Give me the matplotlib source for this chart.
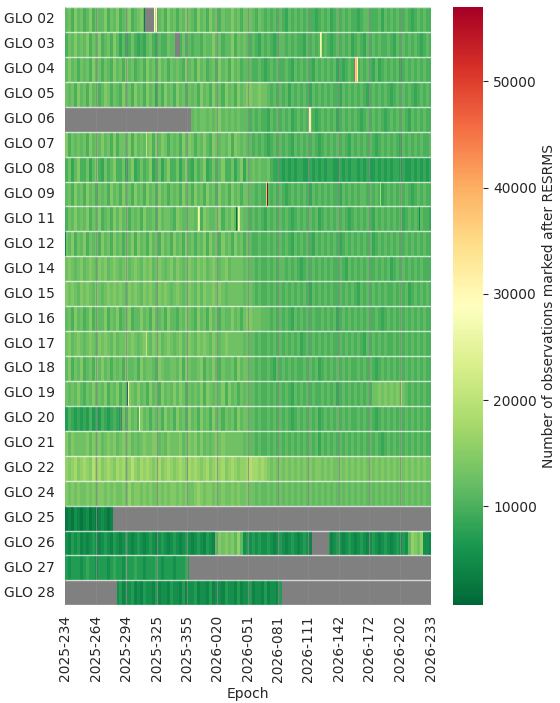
import numpy as np
import pandas as pd
import matplotlib
matplotlib.use("Agg")
import matplotlib.pyplot as plt
import seaborn as sns

sns.set_style("white")
plt.rcParams['font.family'] = ['DejaVu Sans']

satellites = ["GLO 02", "GLO 03", "GLO 04", "GLO 05", "GLO 06", "GLO 07",
              "GLO 08", "GLO 09", "GLO 11", "GLO 12", "GLO 14", "GLO 15",
              "GLO 16", "GLO 17", "GLO 18", "GLO 19", "GLO 20", "GLO 21",
              "GLO 22", "GLO 24", "GLO 25", "GLO 26", "GLO 27", "GLO 28"]

# one epoch per day, 2025-234 .. 2026-233
epochs = list(pd.date_range("2025-08-22", periods=365, freq="D").strftime("%Y-%j"))

tick_labels = ["2025-234", "2025-264", "2025-294", "2025-325", "2025-355",
               "2026-020", "2026-051", "2026-081", "2026-111", "2026-142",
               "2026-172", "2026-202", "2026-233"]

# epochs with a data gap (thin grey stripes)
gap_epochs = ["2025-264", "2025-294", "2025-325", "2025-355", "2026-020",
              "2026-051", "2026-081", "2026-111", "2026-142", "2026-172",
              "2026-202", "2026-233"]

# rough level per 3-day block, hex digit: obs = 1000 + 1500 * level
block_levels = [
    "786978 679687 796879 678967 897869 778697 868798 769786 978687 797868 887687 676767 657676 767665 676756 767676 656776 667576 767667 656767 66",  # 02
    "687978 796879 678697 575686 565786 576687 796867 677687 797867 796878 767657 676567 767676 657676 767656 767675 676576 767667 657676 767656 76",  # 03
    "797868 786978 687697 869786 786978 697868 787697 869786 786978 697867 776676 567676 676576 767657 676767 565676 767676 575676 767567 676767 66",  # 04
    "878697 869786 798687 697869 786978 586978 697868 786978 697869 786978 998898 876767 675767 676576 767676 657676 767656 767676 567676 765676 76",  # 05
    "777777 777777 777777 777777 777777 777777 777878 787887 878978 787877 767676 657676 767567 676765 676767 567676 765676 767656 767676 576767 66",  # 06
    "968787 869787 978696 887969 787896 979868 786979 868797 698787 969878 776767 656767 676576 767676 567676 767657 676767 656767 676576 767676 67",  # 07
    "685796 685796 586796 685795 686795 685796 685796 586795 686796 685795 878787 786555 454545 544545 454554 454545 545454 454545 455454 454545 45",  # 08
    "786978 697868 786978 697869 786978 697868 786978 697869 786978 697868 877676 676767 656767 676576 767676 657676 767767 676567 676767 656767 66",  # 09
    "687978 796879 678697 978687 869778 697887 698778 879698 778968 797687 767676 576767 676567 676767 567676 767656 767676 576767 676756 767676 65",  # 11
    "879687 968786 978697 868796 978697 869786 978697 868796 978697 869786 876676 676767 676576 767657 676767 656767 676767 567676 767667 676767 66",  # 12
    "898789 789879 897898 789789 879897 898789 798789 879897 898789 788887 877676 676767 767676 567676 767676 676576 767676 676767 567676 767676 66",  # 14
    "989879 898798 789898 987989 879898 798987 898789 879798 898987 888887 887676 676767 676767 676576 767676 676767 657676 767676 676767 567676 76",  # 15
    "786978 679687 796879 678967 797869 778697 768798 769786 978687 797868 998887 776767 676576 767676 676767 567676 767676 676567 676767 676767 66",  # 16
    "897898 789879 898797 889898 789879 897898 789789 879898 798789 888887 877676 676767 676767 567676 767676 676767 676576 767676 676767 676767 66",  # 17
    "796879 678697 978687 869778 697887 698778 879698 778968 797687 786978 877676 676576 767676 676767 567676 767676 676767 656767 676767 676767 66",  # 18
    "878797 687978 796879 687987 978697 869787 979868 787969 878796 978687 877676 676767 676576 767676 676767 567676 767676 889898 989887 676767 66",  # 19
    "465454 546454 654565 486978 697868 786978 697869 786978 697868 786978 877676 676767 676567 676767 567676 767676 676767 656767 676767 676767 66",  # 20
    "979888 897989 789897 898978 789889 978798 889789 897978 789898 888887 877676 676767 676767 676767 576767 676767 676767 676567 676767 676767 66",  # 21
    "a9ab9a ba9cab 9aba9b ab9aca 9baba9 ab9aba 9aba9b aba9ab 9abab9 aba9aa bcbbab a98989 898989 898989 989898 898989 898989 898989 898989 898989 88",  # 22
    "989898 898989 989898 898a89 989898 898989 989898 89a989 989898 898988 988787 787878 787878 787878 787878 787878 787878 787878 787878 787878 77",  # 24
    "121321 231212 321232 222222 222222 222222 222222 222222 222222 222222 222222 222222 222222 222222 222222 222222 222222 222222 222222 222222 22",  # 25
    "324342 323432 343243 234323 432343 234323 432343 234324 327989 897a73 434343 343234 323432 343234 323423 432343 234323 432343 234343 7a98a3 32",  # 26
    "434443 454434 443454 434445 443444 543444 344454 434443 454434 443444 444444 444444 444444 444444 444444 444444 444444 444444 444444 444444 44",  # 27
    "333333 333333 333323 423342 324332 423324 332423 342332 423324 332423 342332 423324 332423 333333 333333 333333 333333 333333 333333 333333 33",  # 28
]

# single-epoch outliers: (satellite, epoch, observations)
spikes = [
    ("GLO 02", "2025-313", 3000), ("GLO 02", "2025-323", 29000),
    ("GLO 02", "2025-324", 20000), ("GLO 02", "2025-325", 30000),
    ("GLO 03", "2026-123", 27000), ("GLO 03", "2026-124", 22000),
    ("GLO 04", "2026-158", 37000), ("GLO 04", "2026-159", 38000),
    ("GLO 04", "2026-160", 31000),
    ("GLO 06", "2026-111", 35000), ("GLO 06", "2026-112", 30000),
    ("GLO 06", "2026-113", 26000),
    ("GLO 07", "2025-315", 21000),
    ("GLO 09", "2026-069", 20000), ("GLO 09", "2026-070", 57000),
    ("GLO 09", "2026-183", 18000),
    ("GLO 11", "2026-002", 27000), ("GLO 11", "2026-003", 24000),
    ("GLO 11", "2026-039", 2000), ("GLO 11", "2026-041", 27000),
    ("GLO 11", "2026-042", 23000), ("GLO 11", "2026-222", 5000),
    ("GLO 12", "2025-234", 4000),
    ("GLO 17", "2025-315", 21000),
    ("GLO 19", "2025-296", 3000), ("GLO 19", "2025-297", 26000),
    ("GLO 19", "2026-204", 18000),
    ("GLO 20", "2025-308", 27000),
    ("GLO 27", "2025-295", 17000),
]

# satellites without data: (satellite, first epoch, last epoch)
outages = [
    ("GLO 02", "2025-314", "2025-322"),
    ("GLO 03", "2025-344", "2025-348"),
    ("GLO 04", "2026-157", "2026-157"),
    ("GLO 06", "2025-234", "2025-359"),
    ("GLO 20", "2025-289", "2025-289"),
    ("GLO 25", "2025-282", "2026-233"),
    ("GLO 26", "2026-115", "2026-131"),
    ("GLO 27", "2025-358", "2026-233"),
    ("GLO 28", "2025-234", "2025-285"),
    ("GLO 28", "2026-085", "2026-233"),
]

n_blocks = -(-len(epochs) // 3)
rows = []
for s in block_levels:
    s = s.replace(" ", "")
    s = s.ljust(n_blocks, s[-1])[:n_blocks]
    rows.append([int(c, 16) for c in s])
levels = np.array(rows)
values = 1000.0 + 1500.0 * np.repeat(levels, 3, axis=1)[:, :len(epochs)]
df = pd.DataFrame(values, index=satellites, columns=epochs)

for sat, ep, v in spikes:
    df.loc[sat, ep] = v
for sat, a, b in outages:
    df.loc[sat, a:b] = np.nan

fig = plt.figure(figsize=(5.6, 7.03), dpi=100)
ax = fig.add_axes([0.116, 0.139, 0.654, 0.851])
cax = fig.add_axes([0.809, 0.139, 0.054, 0.851])
ax.set_facecolor("gray")

sns.heatmap(df, ax=ax, cbar_ax=cax, cmap="RdYlGn_r", vmin=700, vmax=57000,
            xticklabels=False, yticklabels=satellites,
            cbar_kws={"label": "Number of observations marked after RESRMS"})

gaps = [epochs.index(g) + 0.5 for g in gap_epochs]
ax.vlines(gaps, 0, len(satellites), color="#888888", lw=0.8, alpha=0.8)
ax.hlines(np.arange(len(satellites) + 1), 0, len(epochs), color="white",
          lw=1.0, alpha=0.7)

ticks = [epochs.index(t) + 0.5 for t in tick_labels]
ax.set_xticks(ticks)
ax.set_xticklabels(tick_labels, rotation=90)
ax.set_yticklabels(satellites, rotation=0)
ax.set_xlabel("Epoch")

fig.savefig("out.png", dpi=100)
